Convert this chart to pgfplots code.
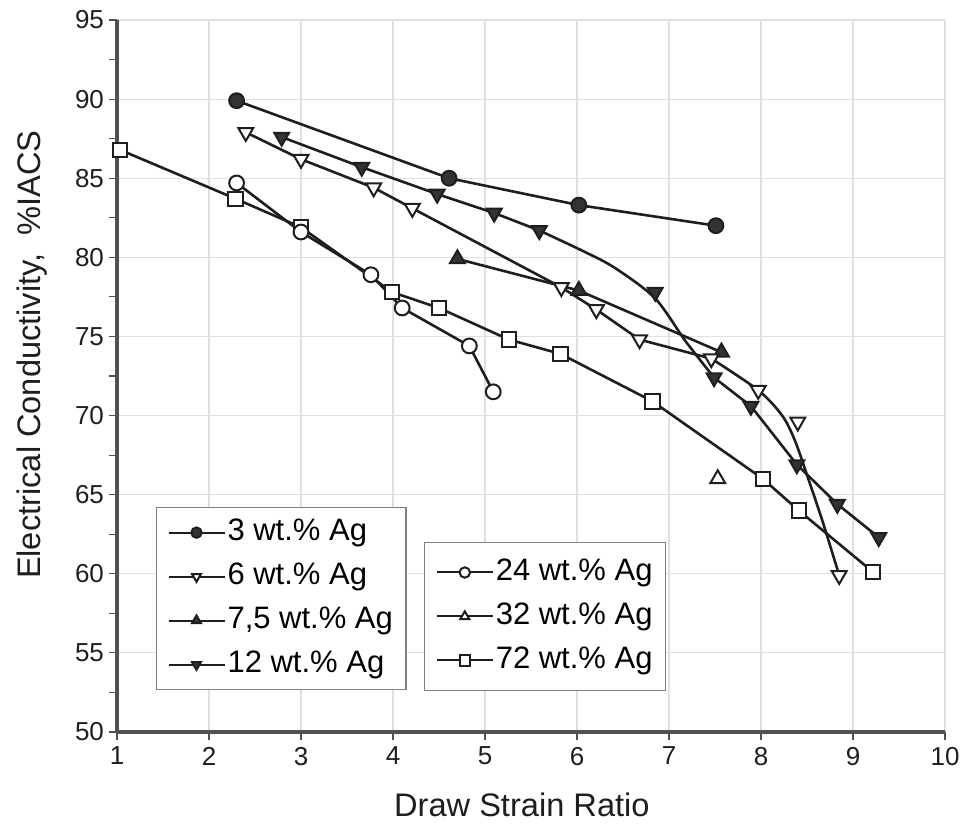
\documentclass[border=0pt]{standalone}
\usepackage{fontspec}
\setmainfont{Liberation Sans}
\usepackage{pgfplots}
\pgfplotsset{compat=1.18}

\definecolor{ink}{HTML}{1E1E1E}
\definecolor{dark}{HTML}{333333}
\definecolor{gridc}{HTML}{E0E0E0}
\definecolor{axc}{HTML}{505050}

\pgfplotsset{
  base/.style={ink, line width=1.3pt, forget plot},
  fcirc/.style={base, mark=*, mark size=3.7pt, mark options={fill=dark, draw=ink, line width=1pt}},
  ocirc/.style={base, mark=*, mark size=3.7pt, mark options={fill=white, draw=ink, line width=1pt}},
  osq/.style={base, mark=square*, mark size=3.6pt, mark options={fill=white, draw=ink, line width=1pt}},
  ftriup/.style={base, mark=triangle*, mark size=4.3pt, mark options={fill=dark, draw=ink, line width=1pt}},
  otriup/.style={base, mark=triangle*, mark size=4.3pt, mark options={fill=white, draw=ink, line width=1pt}},
  ftridn/.style={base, mark=triangle*, mark size=4.3pt, mark options={fill=dark, draw=ink, line width=1pt, rotate=180}},
  otridn/.style={base, mark=triangle*, mark size=4.3pt, mark options={fill=white, draw=ink, line width=1pt, rotate=180}},
  lg/.style={ink, line width=1pt, mark size=2.6pt, mark options={draw=ink, line width=0.8pt}},
  mylegend/.style={
    legend image code/.code={\draw[mark repeat=2,mark phase=2,##1]
        plot coordinates {(0pt,0pt)(14pt,0pt)(28pt,0pt)};},
    legend style={draw=gray, line width=0.6pt, fill=white,
      font=\fontsize{15.5}{18}\selectfont, legend cell align=left,
      inner xsep=5.5pt, inner ysep=5.5pt, row sep=8pt,
      nodes={inner sep=1pt, text height=10pt, text depth=2pt}},
  },
  frame/.style={
    scale only axis, width=414pt, height=356pt,
    xmin=1, xmax=10, ymin=50, ymax=95,
  },
}

\begin{document}
\begin{tikzpicture}
\begin{axis}[
  frame, mylegend,
  axis x line=bottom, axis y line=left,
  axis line style={axc, line width=1.6pt, -},
  xtick={1,...,10}, ytick={50,55,...,95},
  minor y tick num=1,
  tick align=outside, major tick length=4pt, minor tick length=4pt,
  tick style={axc, line width=0.6pt},
  grid=major, major grid style={gridc, line width=0.6pt},
  ticklabel style={font=\fontsize{13}{15}\selectfont, text=ink},
  yticklabel style={xshift=1pt},
  /pgf/number format/assume math mode=true,
  xlabel={Draw Strain Ratio}, ylabel={Electrical Conductivity,\ \ \%IACS},
  label style={font=\fontsize{16.3}{18}\selectfont, text=ink},
  xlabel style={at={(axis description cs:0.489,-0.1025)}, anchor=center},
  ylabel style={at={(axis description cs:-0.102,0.530)}, anchor=center},
  legend style={at={(axis description cs:0.047,0.316)}, anchor=north west},
  clip=false,
]
% 72 wt.% Ag
\addplot[osq] coordinates {
(1.03,86.8) (2.29,83.7) (3.0,81.9) (3.99,77.8) (4.5,76.8) (5.26,74.8)
(5.82,73.9) (6.82,70.9) (8.02,66.0) (8.41,64.0) (9.22,60.1)};
% 24 wt.% Ag
\addplot[ocirc] coordinates {
(2.3,84.7) (3.0,81.6) (3.76,78.9) (4.1,76.8) (4.83,74.4) (5.09,71.5)};
% 32 wt.% Ag
\addplot[otriup, only marks] coordinates {(7.53,66.0)};
% 6 wt.% Ag, line
\addplot[base] coordinates {
(2.4,87.9) (3.0,86.2) (3.79,84.4) (4.21,83.1) (5.83,78.1) (6.21,76.7)
(6.68,74.8) (7.46,73.6)};
\addplot[base, smooth] coordinates {
(7.46,73.6) (7.97,71.6) (8.23,70.0) (8.37,68.4) (8.52,65.9) (8.67,63.3) (8.85,59.9)};
% 7.5 wt.% Ag
\addplot[ftriup] coordinates {(4.7,79.9) (6.02,77.9) (7.57,74.0)};
% 12 wt.% Ag, line
\addplot[base] coordinates {
(2.79,87.6) (3.66,85.7) (4.48,84.0) (5.1,82.8) (5.59,81.7)};
\addplot[base, smooth] coordinates {
(5.59,81.7) (6.1,80.3) (6.42,79.3) (6.85,77.4) (7.18,74.7) (7.49,72.4)};
\addplot[base] coordinates {
(7.49,72.4) (7.89,70.6) (8.39,66.9) (8.83,64.4) (9.28,62.3)};
% 6 wt.% Ag, marks
\addplot[otridn, only marks] coordinates {
(2.4,87.9) (3.0,86.2) (3.79,84.4) (4.21,83.1) (5.83,78.1) (6.21,76.7)
(6.68,74.8) (7.46,73.6) (7.97,71.6) (8.4,69.6) (8.85,59.9)};
% 12 wt.% Ag, marks
\addplot[ftridn, only marks] coordinates {
(2.79,87.6) (3.66,85.7) (4.48,84.0) (5.1,82.8) (5.59,81.7) (6.85,77.8)
(7.49,72.4) (7.89,70.6) (8.39,66.9) (8.83,64.4) (9.28,62.3)};
% 3 wt.% Ag
\addplot[fcirc] coordinates {(2.3,89.9) (4.61,85.0) (6.02,83.3) (7.51,82.0)};

\addlegendimage{lg, mark=*, mark options={fill=dark}}
\addlegendentry{3 wt.\% Ag}
\addlegendimage{lg, mark=triangle*, mark options={fill=white, rotate=180}}
\addlegendentry{6 wt.\% Ag}
\addlegendimage{lg, mark=triangle*, mark options={fill=dark}}
\addlegendentry{7,5 wt.\% Ag}
\addlegendimage{lg, mark=triangle*, mark options={fill=dark, rotate=180}}
\addlegendentry{12 wt.\% Ag}
\end{axis}

\begin{axis}[
  frame, mylegend, hide axis,
  xmin=0, xmax=1, ymin=0, ymax=1,
  legend style={at={(axis description cs:0.371,0.267)}, anchor=north west,
    inner ysep=8pt},
]
\addlegendimage{lg, mark=*, mark options={fill=white}}
\addlegendentry{24 wt.\% Ag}
\addlegendimage{lg, mark=triangle*, mark options={fill=white}}
\addlegendentry{32 wt.\% Ag}
\addlegendimage{lg, mark=square*, mark options={fill=white}}
\addlegendentry{72 wt.\% Ag}
\end{axis}

\pgfresetboundingbox
\path[use as bounding box] (-58.5pt,-45.5pt) rectangle (422pt,366pt);
\end{tikzpicture}
\end{document}
